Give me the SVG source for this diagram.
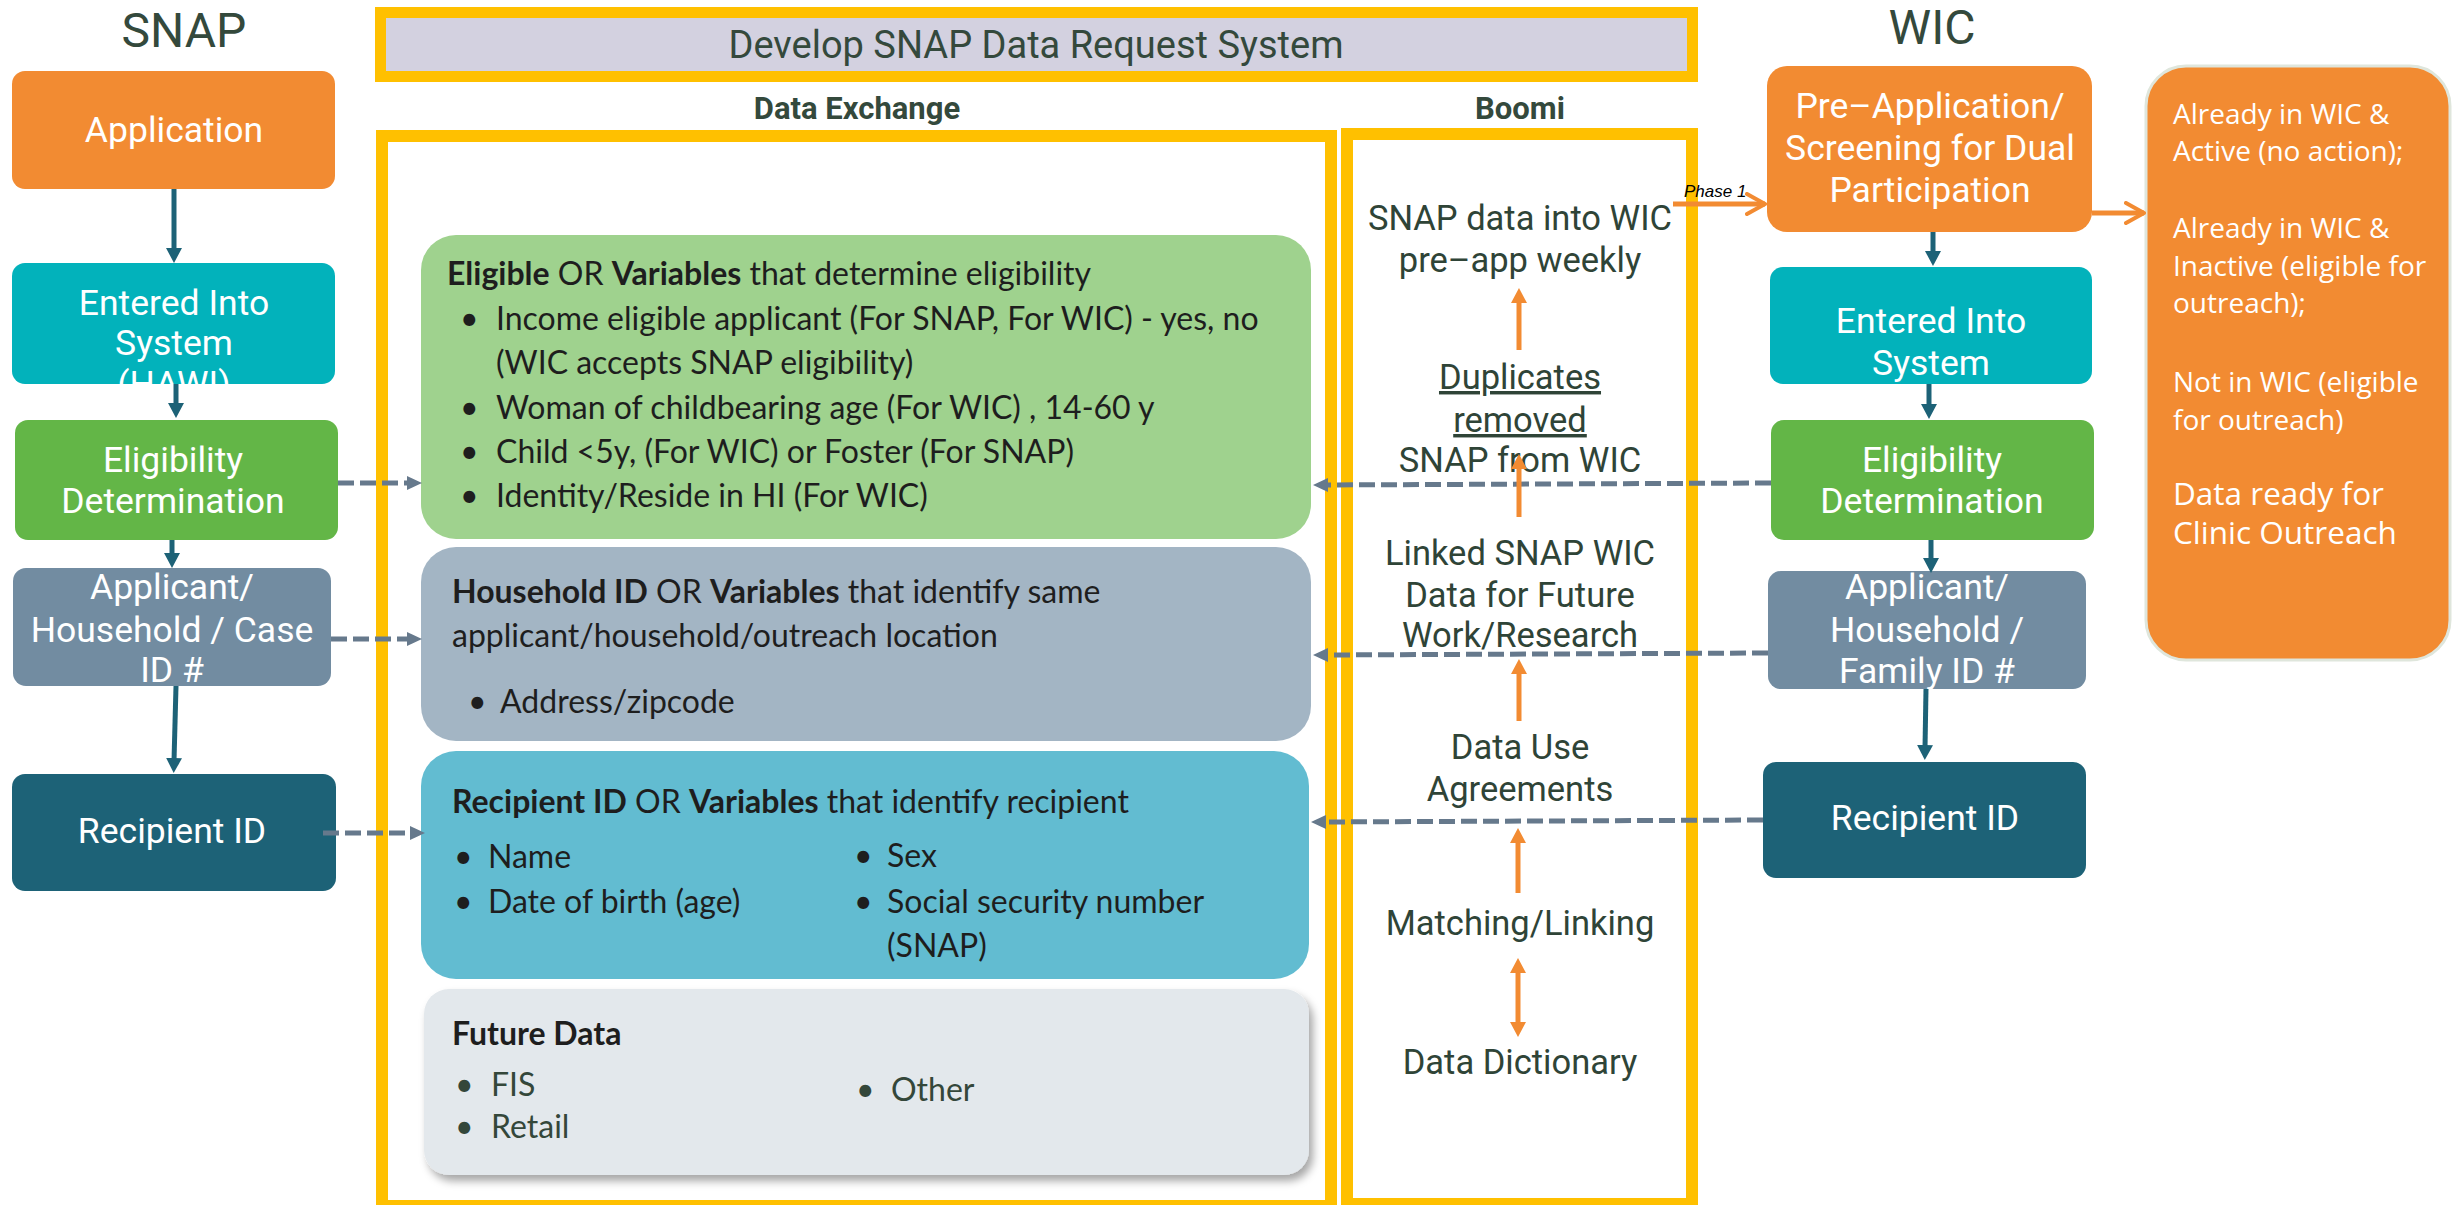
<svg xmlns="http://www.w3.org/2000/svg" width="2456" height="1205" viewBox="0 0 2456 1205">
<defs>
<style>
.hd{font-family:Roboto,"DejaVu Sans",sans-serif;fill:#34493c}
.bx{font-family:Roboto,"DejaVu Sans",sans-serif;font-size:35.5px;fill:#fff;text-anchor:middle}
.bm{font-family:Roboto,"DejaVu Sans",sans-serif;font-size:34.5px;fill:#2f4437;text-anchor:middle}
.de{font-family:Lato,"Liberation Sans",sans-serif;font-size:32px;fill:#1e1e1e}
.fd{font-family:Lato,"Liberation Sans",sans-serif;font-size:32px;fill:#34473a}
.nt{font-family:"Open Sans","Liberation Sans",sans-serif;fill:#fff}
.b{font-weight:bold}
.frame{fill:none;stroke:#ffc000;stroke-width:12}
.solid{stroke:#1d6277;stroke-width:5;fill:none}
.dash{stroke:#66798c;stroke-width:5;stroke-dasharray:16 6;fill:none}
.org{stroke:#f28b32;stroke-width:5;fill:none}
</style>
<marker id="ahT" markerUnits="userSpaceOnUse" viewBox="0 0 15 16" refX="3" refY="8" markerWidth="15" markerHeight="16" orient="auto"><path d="M0,0 L15,8 L0,16 z" fill="#1d6277"/></marker>
<marker id="ahG" markerUnits="userSpaceOnUse" viewBox="0 0 15 14" refX="3" refY="7" markerWidth="15" markerHeight="14" orient="auto"><path d="M0,0 L15,7 L0,14 z" fill="#66798c"/></marker>
<marker id="ahO" markerUnits="userSpaceOnUse" viewBox="0 0 15 16" refX="3" refY="8" markerWidth="15" markerHeight="16" orient="auto-start-reverse"><path d="M0,0 L15,8 L0,16 z" fill="#f28b32"/></marker>
<marker id="chev" markerUnits="userSpaceOnUse" viewBox="0 0 22 24" refX="20" refY="12" markerWidth="22" markerHeight="24" orient="auto"><path d="M2,2 L20,12 L2,22" fill="none" stroke="#f28b32" stroke-width="4" stroke-linecap="round" stroke-linejoin="round"/></marker>
<clipPath id="clipE"><rect x="12" y="263" width="323" height="121" rx="13"/></clipPath>
<filter id="sh" x="-5%" y="-10%" width="112%" height="130%"><feDropShadow dx="4" dy="6" stdDeviation="4" flood-color="#000" flood-opacity="0.35"/></filter>
</defs>
<rect width="2456" height="1205" fill="#fff"/>

<g id="titles">
<text class="hd" x="184" y="47" font-size="48" text-anchor="middle">SNAP</text>
<text class="hd" x="1932" y="44" font-size="48" text-anchor="middle">WIC</text>
</g>

<g id="system-title">
<rect x="380.5" y="12.5" width="1312" height="64" fill="#d3d1e0" stroke="#ffc000" stroke-width="11"/>
<text class="hd" x="1036" y="58" font-size="38" text-anchor="middle">Develop SNAP Data Request System</text>
</g>

<g id="data-exchange">
<text class="hd b" x="857" y="119" font-size="31" text-anchor="middle">Data Exchange</text>
<rect class="frame" x="382" y="136" width="949" height="1070"/>
</g>

<g id="boomi">
<text class="hd b" x="1520" y="119" font-size="31" text-anchor="middle">Boomi</text>
<rect class="frame" x="1347" y="134" width="345" height="1070"/>
<text class="bm" x="1520" y="230">SNAP data into WIC</text>
<text class="bm" x="1520" y="272">pre–app weekly</text>
<text class="bm" x="1520" y="389" text-decoration="underline">Duplicates</text>
<text class="bm" x="1520" y="432" text-decoration="underline">removed</text>
<text class="bm" x="1520" y="472">SNAP from WIC</text>
<text class="bm" x="1520" y="565">Linked SNAP WIC</text>
<text class="bm" x="1520" y="607">Data for Future</text>
<text class="bm" x="1520" y="647">Work/Research</text>
<text class="bm" x="1520" y="759">Data Use</text>
<text class="bm" x="1520" y="801">Agreements</text>
<text class="bm" x="1520" y="935">Matching/Linking</text>
<text class="bm" x="1520" y="1074">Data Dictionary</text>
</g>

<g id="snap-application">
<rect x="12" y="71" width="323" height="118" rx="13" fill="#f28b32"/>
<text class="bx" x="174" y="142">Application</text>
</g>
<g id="snap-entered">
<rect x="12" y="263" width="323" height="121" rx="13" fill="#02b2bb"/>
<g clip-path="url(#clipE)">
<text class="bx" x="174" y="315">Entered Into</text>
<text class="bx" x="174" y="355">System</text>
<text class="bx" x="174" y="396">(HAWI)</text>
</g>
</g>
<g id="snap-eligibility">
<rect x="15" y="420" width="323" height="120" rx="13" fill="#63b647"/>
<text class="bx" x="173" y="472">Eligibility</text>
<text class="bx" x="173" y="513">Determination</text>
</g>
<g id="snap-applicant">
<rect x="13" y="568" width="318" height="118" rx="13" fill="#728ca1"/>
<text class="bx" x="172" y="599">Applicant/</text>
<text class="bx" x="172" y="642">Household / Case</text>
<text class="bx" x="172" y="682">ID #</text>
</g>
<g id="snap-recipient">
<rect x="12" y="774" width="324" height="117" rx="13" fill="#1d6277"/>
<text class="bx" x="172" y="843">Recipient ID</text>
</g>

<g id="de-eligible">
<rect x="421" y="235" width="890" height="304" rx="35" fill="#9fd28e"/>
<text class="de" x="447" y="285"><tspan class="b">Eligible</tspan> OR <tspan class="b">Variables</tspan> that determine eligibility</text>
<text class="de" x="460" y="330">•</text><text class="de" x="496" y="330">Income eligible applicant (For SNAP, For WIC) - yes, no</text>
<text class="de" x="496" y="374">(WIC accepts SNAP eligibility)</text>
<text class="de" x="460" y="419">•</text><text class="de" x="496" y="419">Woman of childbearing age (For WIC) , 14-60 y</text>
<text class="de" x="460" y="463">•</text><text class="de" x="496" y="463">Child &lt;5y, (For WIC) or Foster (For SNAP)</text>
<text class="de" x="460" y="507">•</text><text class="de" x="496" y="507">Identity/Reside in HI (For WIC)</text>
</g>
<g id="de-household">
<rect x="421" y="547" width="890" height="194" rx="35" fill="#a3b5c4"/>
<text class="de" x="452" y="603"><tspan class="b">Household ID</tspan> OR <tspan class="b">Variables</tspan> that identify same</text>
<text class="de" x="452" y="647">applicant/household/outreach location</text>
<text class="de" x="468" y="713">•</text><text class="de" x="500" y="713">Address/zipcode</text>
</g>
<g id="de-recipient">
<rect x="421" y="751" width="888" height="228" rx="35" fill="#62bcd1"/>
<text class="de" x="452" y="813"><tspan class="b">Recipient ID</tspan> OR <tspan class="b">Variables</tspan> that identify recipient</text>
<text class="de" x="454" y="868">•</text><text class="de" x="488" y="868">Name</text>
<text class="de" x="454" y="913">•</text><text class="de" x="488" y="913">Date of birth (age)</text>
<text class="de" x="854" y="867">•</text><text class="de" x="887" y="867">Sex</text>
<text class="de" x="854" y="913">•</text><text class="de" x="887" y="913">Social security number</text>
<text class="de" x="887" y="957">(SNAP)</text>
</g>
<g id="de-future">
<rect x="424" y="989" width="885" height="186" rx="25" fill="#e3e8ec" filter="url(#sh)"/>
<text class="de b" x="452" y="1045" font-size="35">Future Data</text>
<text class="fd" x="455" y="1096">•</text><text class="fd" x="491" y="1096">FIS</text>
<text class="fd" x="455" y="1138">•</text><text class="fd" x="491" y="1138">Retail</text>
<text class="fd" x="856" y="1101">•</text><text class="fd" x="891" y="1101">Other</text>
</g>

<g id="wic-preapp">
<rect x="1767" y="66" width="325" height="166" rx="20" fill="#f28b32"/>
<text class="bx" x="1930" y="118">Pre–Application/</text>
<text class="bx" x="1930" y="160">Screening for Dual</text>
<text class="bx" x="1930" y="202">Participation</text>
</g>
<g id="wic-entered">
<rect x="1770" y="267" width="322" height="117" rx="13" fill="#02b2bb"/>
<text class="bx" x="1931" y="333">Entered Into</text>
<text class="bx" x="1931" y="375">System</text>
</g>
<g id="wic-eligibility">
<rect x="1771" y="420" width="323" height="120" rx="13" fill="#63b647"/>
<text class="bx" x="1932" y="472">Eligibility</text>
<text class="bx" x="1932" y="513">Determination</text>
</g>
<g id="wic-applicant">
<rect x="1768" y="571" width="318" height="118" rx="13" fill="#728ca1"/>
<text class="bx" x="1927" y="599">Applicant/</text>
<text class="bx" x="1927" y="642">Household /</text>
<text class="bx" x="1927" y="683">Family ID #</text>
</g>
<g id="wic-recipient">
<rect x="1763" y="762" width="323" height="116" rx="13" fill="#1d6277"/>
<text class="bx" x="1925" y="830">Recipient ID</text>
</g>
<g id="wic-outcomes">
<rect x="2146" y="66" width="304" height="594" rx="40" fill="#f28b32" stroke="#dfe6dc" stroke-width="3"/>
<text class="nt" x="2173" y="124" font-size="28">Already in WIC &amp;</text>
<text class="nt" x="2173" y="161" font-size="28">Active (no action);</text>
<text class="nt" x="2173" y="238" font-size="28">Already in WIC &amp;</text>
<text class="nt" x="2173" y="276" font-size="28">Inactive (eligible for</text>
<text class="nt" x="2173" y="313" font-size="28">outreach);</text>
<text class="nt" x="2173" y="392" font-size="28">Not in WIC (eligible</text>
<text class="nt" x="2173" y="430" font-size="28">for outreach)</text>
<text class="nt" x="2173" y="505" font-size="31.5">Data ready for</text>
<text class="nt" x="2173" y="544" font-size="31.5">Clinic Outreach</text>
</g>

<g id="connectors">
<path class="solid" d="M174,189 L174,251" marker-end="url(#ahT)"/>
<path class="solid" d="M176,384 L176,406" marker-end="url(#ahT)"/>
<path class="solid" d="M172,540 L172,556" marker-end="url(#ahT)"/>
<path class="solid" d="M176,686 L174,761" marker-end="url(#ahT)"/>
<path class="solid" d="M1933,232 L1933,254" marker-end="url(#ahT)"/>
<path class="solid" d="M1929,384 L1929,407" marker-end="url(#ahT)"/>
<path class="solid" d="M1931,540 L1931,561" marker-end="url(#ahT)"/>
<path class="solid" d="M1926,689 L1925,748" marker-end="url(#ahT)"/>
<path class="dash" d="M338,483 L410,483" marker-end="url(#ahG)"/>
<path class="dash" d="M331,639 L410,639" marker-end="url(#ahG)"/>
<path class="dash" d="M323,833 L413,833" marker-end="url(#ahG)"/>
<path class="dash" d="M1771,483 L1325,485" marker-end="url(#ahG)"/>
<path class="dash" d="M1768,653 L1325,655" marker-end="url(#ahG)"/>
<path class="dash" d="M1763,820 L1323,822" marker-end="url(#ahG)"/>
<path class="org" d="M1519,350 L1519,300" marker-end="url(#ahO)"/>
<path class="org" d="M1519,517 L1519,466" marker-end="url(#ahO)"/>
<path class="org" d="M1519,721 L1519,671" marker-end="url(#ahO)"/>
<path class="org" d="M1518,893 L1518,840" marker-end="url(#ahO)"/>
<path class="org" d="M1518,970 L1518,1025" marker-start="url(#ahO)" marker-end="url(#ahO)"/>
<path class="org" d="M1673,204 L1765,204" marker-end="url(#chev)"/>
<path class="org" d="M2092,213 L2144,213" marker-end="url(#chev)"/>
<text x="1684" y="197" font-family="'Liberation Sans',Arial,sans-serif" font-size="17" font-style="italic" fill="#000">Phase 1</text>
</g>
</svg>
